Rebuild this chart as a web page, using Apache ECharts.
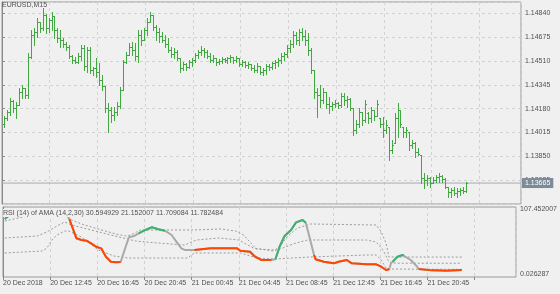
<!DOCTYPE html>
<html>
<head>
<meta charset="utf-8">
<script src="https://cdn.jsdelivr.net/npm/echarts@6/dist/echarts.min.js"></script>
<style>
html,body{margin:0;padding:0;background:#f0f0f0;}
#c{width:560px;height:294px;}
</style>
</head>
<body>
<div id="c"></div>
<script>
// ---- Data: EURUSD M15 bars (one per 15 minutes) ----
const open = [1.14073,1.14114,1.14156,1.14232,1.14183,1.14204,1.14294,1.14322,1.14274,1.14537,1.14690,1.14710,1.14780,1.14738,1.14828,1.14738,1.14794,1.14821,1.14724,1.14669,1.14655,1.14627,1.14606,1.14544,1.14516,1.14502,1.14544,1.14599,1.14475,1.14586,1.14447,1.14461,1.14433,1.14378,1.14336,1.14183,1.14170,1.14135,1.14156,1.14197,1.14308,1.14502,1.14551,1.14606,1.14586,1.14544,1.14690,1.14655,1.14724,1.14780,1.14828,1.14745,1.14710,1.14683,1.14655,1.14627,1.14586,1.14558,1.14572,1.14530,1.14461,1.14488,1.14468,1.14502,1.14516,1.14551,1.14572,1.14586,1.14572,1.14544,1.14516,1.14530,1.14502,1.14509,1.14523,1.14516,1.14530,1.14537,1.14516,1.14530,1.14488,1.14502,1.14482,1.14488,1.14461,1.14447,1.14475,1.14433,1.14447,1.14475,1.14468,1.14495,1.14502,1.14516,1.14544,1.14558,1.14599,1.14627,1.14690,1.14655,1.14710,1.14683,1.14655,1.14586,1.14447,1.14294,1.14274,1.14239,1.14294,1.14211,1.14197,1.14211,1.14218,1.14204,1.14267,1.14239,1.14246,1.14183,1.14031,1.14073,1.14156,1.14100,1.14149,1.14114,1.14170,1.14128,1.14114,1.14073,1.14031,1.14052,1.13892,1.13941,1.14114,1.14170,1.14052,1.14017,1.14017,1.13927,1.13941,1.13878,1.13858,1.13698,1.13684,1.13698,1.13664,1.13684,1.13705,1.13712,1.13691,1.13636,1.13601,1.13615,1.13594,1.13608,1.13615,1.13608];
const high = [1.14128,1.14170,1.14253,1.14239,1.14225,1.14322,1.14343,1.14322,1.14565,1.14724,1.14738,1.14807,1.14780,1.14877,1.14835,1.14807,1.14849,1.14821,1.14738,1.14724,1.14669,1.14641,1.14620,1.14551,1.14537,1.14565,1.14620,1.14620,1.14606,1.14606,1.14468,1.14530,1.14495,1.14412,1.14336,1.14218,1.14190,1.14190,1.14225,1.14329,1.14516,1.14572,1.14634,1.14641,1.14634,1.14724,1.14724,1.14738,1.14807,1.14849,1.14828,1.14759,1.14738,1.14710,1.14690,1.14669,1.14606,1.14599,1.14586,1.14530,1.14502,1.14495,1.14516,1.14530,1.14565,1.14586,1.14613,1.14599,1.14586,1.14565,1.14551,1.14530,1.14523,1.14537,1.14530,1.14537,1.14551,1.14537,1.14544,1.14530,1.14516,1.14509,1.14502,1.14488,1.14482,1.14495,1.14475,1.14461,1.14488,1.14488,1.14502,1.14516,1.14530,1.14565,1.14572,1.14620,1.14655,1.14717,1.14710,1.14731,1.14738,1.14724,1.14703,1.14599,1.14447,1.14322,1.14343,1.14322,1.14294,1.14260,1.14225,1.14239,1.14225,1.14287,1.14287,1.14267,1.14253,1.14183,1.14100,1.14183,1.14156,1.14239,1.14156,1.14190,1.14170,1.14239,1.14114,1.14121,1.14100,1.14052,1.13962,1.14149,1.14218,1.14170,1.14052,1.14052,1.14017,1.13962,1.13948,1.13906,1.13858,1.13733,1.13719,1.13705,1.13705,1.13719,1.13733,1.13719,1.13698,1.13636,1.13629,1.13636,1.13629,1.13629,1.13636,1.13670];
const low = [1.14052,1.14100,1.14135,1.14156,1.14114,1.14204,1.14253,1.14253,1.14253,1.14530,1.14620,1.14676,1.14710,1.14724,1.14703,1.14710,1.14724,1.14669,1.14641,1.14606,1.14606,1.14586,1.14530,1.14495,1.14495,1.14495,1.14516,1.14447,1.14433,1.14426,1.14412,1.14398,1.14343,1.14308,1.14156,1.14017,1.14087,1.14100,1.14135,1.14183,1.14308,1.14495,1.14551,1.14551,1.14516,1.14502,1.14620,1.14655,1.14690,1.14780,1.14724,1.14655,1.14641,1.14641,1.14606,1.14572,1.14537,1.14530,1.14516,1.14433,1.14447,1.14447,1.14461,1.14475,1.14502,1.14530,1.14551,1.14537,1.14530,1.14502,1.14502,1.14482,1.14488,1.14495,1.14502,1.14495,1.14502,1.14495,1.14502,1.14475,1.14475,1.14468,1.14461,1.14447,1.14433,1.14433,1.14419,1.14412,1.14419,1.14447,1.14454,1.14461,1.14475,1.14495,1.14516,1.14537,1.14572,1.14606,1.14627,1.14620,1.14655,1.14620,1.14551,1.14426,1.14253,1.14121,1.14190,1.14218,1.14183,1.14149,1.14170,1.14190,1.14183,1.14190,1.14204,1.14190,1.14170,1.13996,1.14010,1.14052,1.14066,1.14087,1.14080,1.14087,1.14100,1.14128,1.14052,1.13982,1.14010,1.13823,1.13872,1.13941,1.13982,1.14052,1.13982,1.13982,1.13892,1.13906,1.13844,1.13858,1.13664,1.13629,1.13650,1.13636,1.13664,1.13670,1.13670,1.13670,1.13629,1.13567,1.13567,1.13580,1.13567,1.13580,1.13594,1.13601];
const close = [1.14114,1.14156,1.14232,1.14183,1.14204,1.14294,1.14322,1.14274,1.14537,1.14690,1.14710,1.14780,1.14738,1.14828,1.14738,1.14794,1.14821,1.14724,1.14669,1.14655,1.14627,1.14606,1.14544,1.14516,1.14502,1.14544,1.14599,1.14475,1.14586,1.14447,1.14461,1.14433,1.14378,1.14336,1.14183,1.14170,1.14135,1.14156,1.14197,1.14308,1.14502,1.14551,1.14606,1.14586,1.14544,1.14690,1.14655,1.14724,1.14780,1.14828,1.14745,1.14710,1.14683,1.14655,1.14627,1.14586,1.14558,1.14572,1.14530,1.14461,1.14488,1.14468,1.14502,1.14516,1.14551,1.14572,1.14586,1.14572,1.14544,1.14516,1.14530,1.14502,1.14509,1.14523,1.14516,1.14530,1.14537,1.14516,1.14530,1.14488,1.14502,1.14482,1.14488,1.14461,1.14447,1.14475,1.14433,1.14447,1.14475,1.14468,1.14495,1.14502,1.14516,1.14544,1.14558,1.14599,1.14627,1.14690,1.14655,1.14710,1.14683,1.14655,1.14586,1.14447,1.14294,1.14274,1.14239,1.14294,1.14211,1.14197,1.14211,1.14218,1.14204,1.14267,1.14239,1.14246,1.14183,1.14031,1.14073,1.14156,1.14100,1.14211,1.14114,1.14170,1.14128,1.14211,1.14073,1.14031,1.14066,1.13892,1.13927,1.14114,1.14170,1.14073,1.14017,1.14031,1.13927,1.13941,1.13878,1.13865,1.13698,1.13684,1.13698,1.13664,1.13684,1.13705,1.13712,1.13691,1.13636,1.13601,1.13615,1.13594,1.13608,1.13615,1.13608,1.13665];
const lastPrice = 1.13665;

// price axis ticks
const priceMin = 1.13520, priceMax = 1.14918, priceStep = 0.00165;

// time axis labels (one every 16 bars = 4 hours)
const timeLabels = ['20 Dec 2018','20 Dec 12:45','20 Dec 16:45','20 Dec 20:45','21 Dec 00:45','21 Dec 04:45','21 Dec 08:45','21 Dec 12:45','21 Dec 16:45','21 Dec 20:45'];
const barsPerLabel = 16;

// ---- RSI (14) of AMA (14,2,30): bar time (index) and value ----
const rsiT = [0,1.3,3.3,19.3,20.7,21.9,24.3,26,27.7,29.3,31,32.7,34.3,36,37.7,39.3,41,42.1,43.8,45.4,47.7,49.9,52.1,54.3,56.6,58.2,59.9,61,64.3,69.9,78.8,79.9,83.2,84.9,87.1,90.4,91.8,93.2,94.9,97.1,98.8,101,102.1,103.6,104.9,105.4,108.2,111.6,113.2,116,117.7,122.7,126,127.7,129.3,130.4,131,131.6,133.2,134.9,135.4,137.7,139.9,140.4,144.9,148.2,149.3,155];
const rsiV = [89.0,93.6,99.0,99.0,98.0,89.0,59.4,56.8,55.7,51.7,46.5,44.0,31.2,23.5,22.6,23.0,46.5,60.9,62.9,67.1,72.2,76.3,73.2,71.1,64.5,54.2,44.0,41.5,41.5,44.0,44.0,40.4,38.8,31.2,26.1,26.1,27.2,46.5,62.9,72.2,83.9,87.5,83.3,56.8,33.8,27.2,23.5,21.0,23.5,26.1,21.0,19.5,19.5,15.8,10.8,11.8,21.0,23.5,31.2,33.8,33.3,26.1,15.8,12.3,10.2,10.0,9.5,10.8];
// trend of each segment starting at a point: g = up, o = down, n = neutral
const rsiTrend = 'gg'+'nnn'+'oooooooooo'+'nnnn'+'gggg'+'nnnnn'+'ooooooo'+'n'+'gggggg'+'nn'+'ooooooooooo'+'nn'+'ggg'+'nnn'+'oooo'+'n';

// levels
const upT = [0,7.7,16,20,22.7,26,31.7,37.7,41,42.7,46,64.3,73.3,78.3,81,85.3,91.7,93.7,96,99.3,103.7,126,127.7,129.3,130.3,155];
const upV = [86.0,93.6,95.2,95.2,87.5,81.4,73.7,66.0,62.9,64.5,72.2,72.2,73.7,70.6,64.5,43.0,41.5,49.1,62.9,75.2,81.4,79.8,69.1,52.2,30.7,30.594929];
const midT = [0,11,14.3,17.7,20.3,22.7,29.3,36,44.3,47.7,61,65,72.7,79.3,84.3,91,94.3,97.7,102.7,122.7,126,128.3,130.3,132.7,155];
const midV = [59.9,62.9,69.1,78.3,84.4,79.8,72.2,64.5,55.3,53.7,49.1,56.8,59.9,56.8,44.5,39.9,44.5,50.7,56.8,56.8,53.7,41.5,23.0,21.152007,21.152007];
const lowT = [0,12.7,14.3,16,17.7,20.3,21.7,26,31.7,37,41.7,62,64.3,80,85.3,91.7,103.7,122.7,126,127.7,129.3,130.3,155];
const lowV = [36.9,39.9,44.5,56.8,64.5,70.6,70.6,61.4,41.5,32.3,29.2,29.2,36.9,36.9,29.2,27.7,30.7,33.8,33.8,26.1,13.8,12.3,11.709084];
const rsiMin = 0.026287, rsiMax = 107.452007;

// ---- build chart ----
const SHIFT = 0.6; // bar center inside its slot
const xMax = 174;
const gridColor = '#d2d2d2';
const textColor = '#505050';
const fontFam = 'Liberation Sans, Arial, sans-serif';

const bars = open.map((o, i) => [i + SHIFT, o, high[i], low[i], close[i]]);
const pairs = (T, V) => T.map((t, i) => [t + SHIFT, V[i]]);

const chart = echarts.init(document.getElementById('c'), null, {renderer: 'canvas'});

const series = [];
// current price line across the whole price panel, with its value box on the axis
series.push({
  type: 'line', xAxisIndex: 0, yAxisIndex: 0, z: 2, silent: true, showSymbol: false,
  data: [[0, lastPrice], [xMax, lastPrice]],
  lineStyle: {color: '#a3acb5', width: 1},
  endLabel: {show: true, distance: 1, formatter: lastPrice.toFixed(5),
    backgroundColor: '#7d8a97', color: '#ffffff', fontSize: 7, fontFamily: fontFam, padding: [2, 3, 1, 3]}
});
series.push({
  type: 'custom', xAxisIndex: 0, yAxisIndex: 0, silent: true, z: 3,
  encode: {x: 0, y: [1, 2, 3, 4]},
  data: bars,
  renderItem: function (params, api) {
    const t = api.value(0);
    const pO = api.coord([t, api.value(1)]);
    const pH = api.coord([t, api.value(2)]);
    const pL = api.coord([t, api.value(3)]);
    const pC = api.coord([t, api.value(4)]);
    const x = Math.round(pH[0]) + 0.5;
    const st = {stroke: '#3fa83f', lineWidth: 1};
    const yo = Math.round(pO[1]) + 0.5, yc = Math.round(pC[1]) + 0.5;
    return {type: 'group', children: [
      {type: 'line', shape: {x1: x, y1: Math.round(pH[1]), x2: x, y2: Math.round(pL[1]) + 1}, style: st},
      {type: 'line', shape: {x1: x - 1.5, y1: yo, x2: x, y2: yo}, style: st},
      {type: 'line', shape: {x1: x, y1: yc, x2: x + 1.5, y2: yc}, style: st}
    ]};
  }
});
// levels (dotted)
[[upT, upV], [midT, midV], [lowT, lowV]].forEach(([T, V]) => {
  series.push({type: 'line', xAxisIndex: 1, yAxisIndex: 1, data: pairs(T, V), showSymbol: false, silent: true, z: 2,
    lineStyle: {color: '#9c9c9c', width: 1, type: [2, 2]}});
});
// RSI base (neutral)
series.push({type: 'line', xAxisIndex: 1, yAxisIndex: 1, data: pairs(rsiT, rsiV), showSymbol: false, silent: true, z: 3,
  lineStyle: {color: '#a9a9a9', width: 2}});
// coloured runs
const runs = [];
for (let i = 0; i < rsiT.length - 1; i++) {
  const s = rsiTrend[i];
  if (s === 'n') continue;
  const last = runs[runs.length - 1];
  if (last && last.s === s && last.end === i) { last.pts.push(i + 1); last.end = i + 1; }
  else runs.push({s: s, pts: [i, i + 1], end: i + 1});
}
runs.forEach(r => {
  series.push({type: 'line', xAxisIndex: 1, yAxisIndex: 1, showSymbol: false, silent: true, z: 4,
    data: r.pts.map(j => [rsiT[j] + SHIFT, rsiV[j]]),
    lineStyle: {color: r.s === 'g' ? '#3cb371' : '#ff4500', width: 2}});
});

const xLabel = v => {
  const k = Math.round(v / barsPerLabel);
  return (Math.abs(v - k * barsPerLabel) < 1e-6 && k < timeLabels.length) ? timeLabels[k] : '';
};

const option = {
  animation: false,
  backgroundColor: '#f0f0f0',
  title: [
    {text: 'EURUSD,M15', left: 2, top: 1, padding: 0,
      textStyle: {fontSize: 7, fontWeight: 'normal', color: textColor, fontFamily: fontFam, lineHeight: 9}},
    {text: 'RSI (14) of AMA (14,2,30) 30.594929 21.152007 11.709084 11.782484', left: 3, top: 209, padding: 0,
      backgroundColor: '#f0f0f0',
      textStyle: {fontSize: 7, fontWeight: 'normal', color: textColor, fontFamily: fontFam, lineHeight: 8}}
  ],
  grid: [
    {left: 2, right: 39, top: 2, height: 202, show: true, borderColor: '#9a9a9a', borderWidth: 1, backgroundColor: 'transparent'},
    {left: 2, right: 39, top: 207, height: 70, show: true, borderColor: '#9a9a9a', borderWidth: 1, backgroundColor: 'transparent'}
  ],
  xAxis: [
    {type: 'value', gridIndex: 0, min: 0, max: xMax, interval: barsPerLabel,
      axisLine: {show: false}, axisTick: {show: false}, axisLabel: {show: false},
      splitLine: {show: true, lineStyle: {color: gridColor, type: [3, 3], width: 1}}},
    {type: 'value', gridIndex: 1, min: 0, max: xMax, interval: barsPerLabel,
      axisLine: {show: false},
      axisTick: {show: true, length: 3, lineStyle: {color: '#8a8a8a'}},
      axisLabel: {show: true, formatter: xLabel, align: 'left', margin: 3, fontSize: 7, color: textColor, fontFamily: fontFam, showMaxLabel: false},
      splitLine: {show: true, lineStyle: {color: gridColor, type: [3, 3], width: 1}}}
  ],
  yAxis: [
    {type: 'value', gridIndex: 0, position: 'right', min: priceMin, max: priceMax, interval: priceStep,
      axisLine: {show: true, lineStyle: {color: '#8a8a8a'}},
      axisTick: {show: true, length: 3, lineStyle: {color: '#8a8a8a'}},
      axisLabel: {show: true, margin: 4, fontSize: 7, color: textColor, fontFamily: fontFam,
        formatter: v => v.toFixed(5), showMinLabel: false, showMaxLabel: false},
      splitLine: {show: true, lineStyle: {color: gridColor, type: [3, 3], width: 1}}},
    {type: 'value', gridIndex: 1, position: 'right', min: rsiMin, max: rsiMax,
      axisLine: {show: true, lineStyle: {color: '#8a8a8a'}},
      axisTick: {show: false},
      axisLabel: {show: true, margin: 4, fontSize: 7, color: textColor, fontFamily: fontFam,
        formatter: v => Math.abs(v - rsiMax) < 1e-6 ? '{t|' + rsiMax.toFixed(6) + '}' : (Math.abs(v - rsiMin) < 1e-7 ? '{b|' + rsiMin.toFixed(6) + '}' : ''),
        rich: {t: {padding: [5, 0, 0, 0], fontSize: 7, color: textColor, fontFamily: fontFam},
               b: {padding: [0, 0, 5, 0], fontSize: 7, color: textColor, fontFamily: fontFam}}},
      splitLine: {show: false}}
  ],
  series: series
};
chart.setOption(option);
</script>
</body>
</html>
